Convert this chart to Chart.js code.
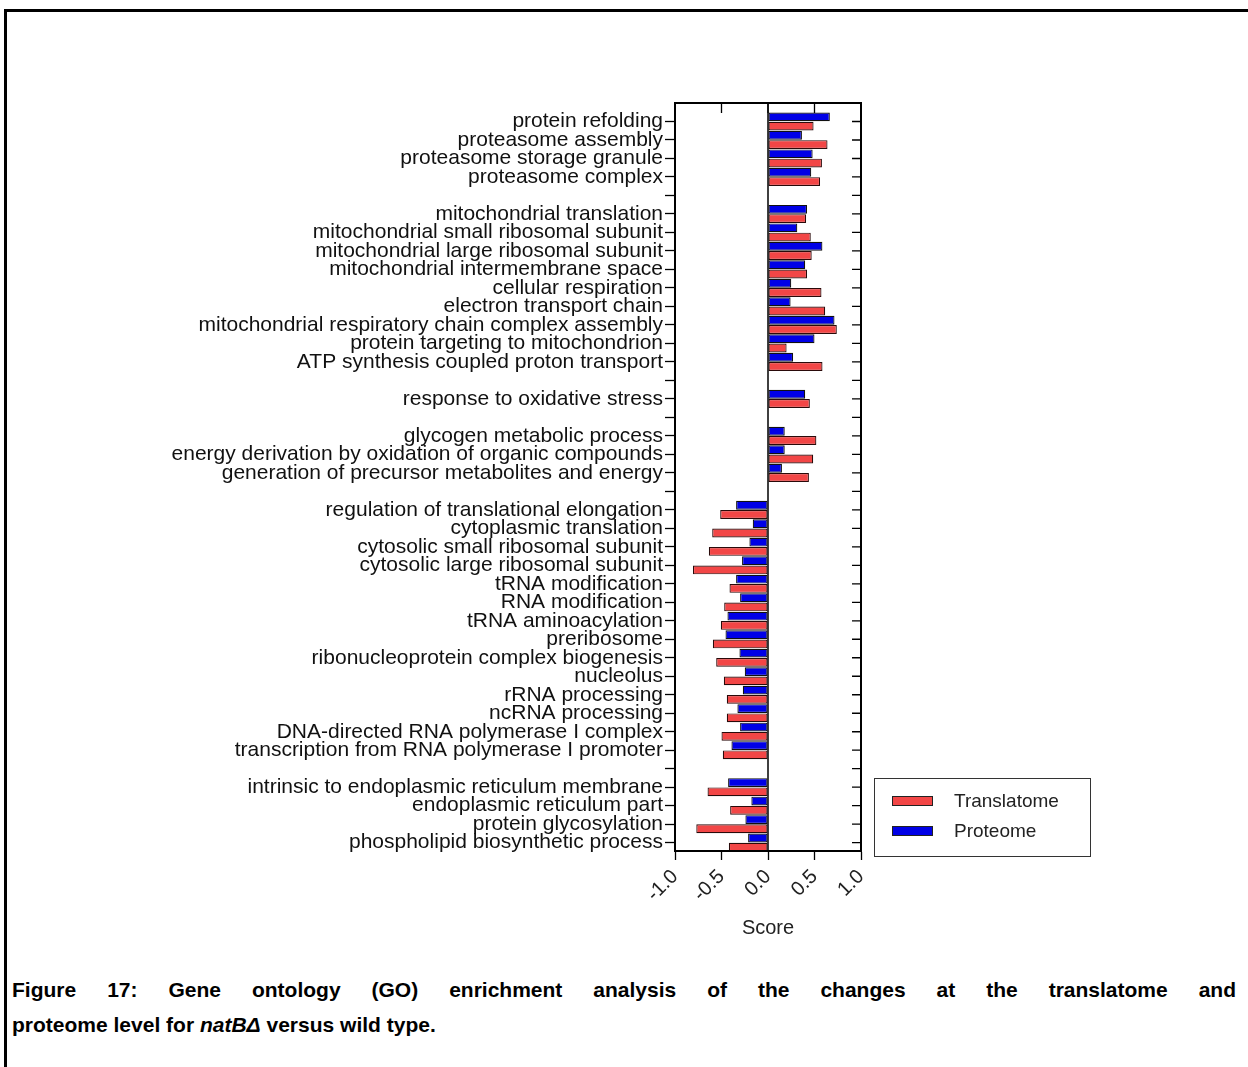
<!DOCTYPE html>
<html>
<head>
<meta charset="utf-8">
<title>GO enrichment natB</title>
<script src="https://cdn.jsdelivr.net/npm/chart.js@4.4.1/dist/chart.umd.min.js"></script>
<style>
    html, body { margin: 0; padding: 0; background: #fff; }
    body { width: 1248px; height: 1067px; position: relative; overflow: hidden; font-family: "Liberation Sans", Arial, sans-serif; }
    .marco-top { position: absolute; left: 4px; top: 9px; width: 1244px; height: 3px; background: #000; }
    .marco-left { position: absolute; left: 4px; top: 9px; width: 3px; height: 1058px; background: #000; }
    #graficoGO { position: absolute; left: 0; top: 0; }
    .leyenda { position: absolute; left: 874px; top: 778px; width: 215px; height: 77px; border: 1.5px solid #333; }
    .leyenda .item { position: absolute; left: 17px; height: 22px; font-size: 19px; color: #222; line-height: 22px; }
    .leyenda .muestra { display: inline-block; width: 39px; height: 8px; border: 1px solid #222; vertical-align: middle; margin-right: 21px; position: relative; top: -1px; }
    .pie { position: absolute; left: 12px; top: 978px; width: 1224px; font-weight: bold; font-size: 21px; color: #000; }
    .pie .linea1 { text-align: justify; text-align-last: justify; height: 35px; }
</style>
</head>
<body>
<div class="marco-top"></div>
<div class="marco-left"></div>
<canvas id="graficoGO" width="1248" height="950"></canvas>

<div class="leyenda">
    <div class="item" style="top: 11px;"><span class="muestra" style="background:#F24646"></span>Translatome</div>
    <div class="item" style="top: 41px;"><span class="muestra" style="background:#0000E6"></span>Proteome</div>
</div>

<div class="pie">
    <div class="linea1">Figure 17: Gene ontology (GO) enrichment analysis of the changes at the translatome and</div>
    <div>proteome level for <i>natBΔ</i> versus wild type.</div>
</div>

<script>
// terms from top to bottom, '' = empty row between groups
const terminos = [
    'protein refolding',
    'proteasome assembly',
    'proteasome storage granule',
    'proteasome complex',
    '',
    'mitochondrial translation',
    'mitochondrial small ribosomal subunit',
    'mitochondrial large ribosomal subunit',
    'mitochondrial intermembrane space',
    'cellular respiration',
    'electron transport chain',
    'mitochondrial respiratory chain complex assembly',
    'protein targeting to mitochondrion',
    'ATP synthesis coupled proton transport',
    '',
    'response to oxidative stress',
    '',
    'glycogen metabolic process',
    'energy derivation by oxidation of organic compounds',
    'generation of precursor metabolites and energy',
    '',
    'regulation of translational elongation',
    'cytoplasmic translation',
    'cytosolic small ribosomal subunit',
    'cytosolic large ribosomal subunit',
    'tRNA modification',
    'RNA modification',
    'tRNA aminoacylation',
    'preribosome',
    'ribonucleoprotein complex biogenesis',
    'nucleolus',
    'rRNA processing',
    'ncRNA processing',
    'DNA-directed RNA polymerase I complex',
    'transcription from RNA polymerase I promoter',
    '',
    'intrinsic to endoplasmic reticulum membrane',
    'endoplasmic reticulum part',
    'protein glycosylation',
    'phospholipid biosynthetic process'
];

const proteome = [
    0.665, 0.365, 0.48, 0.465, null,
    0.42, 0.315, 0.585, 0.40, 0.25, 0.243, 0.715, 0.50, 0.27, null,
    0.40, null,
    0.18, 0.18, 0.15, null,
    -0.343, -0.164, -0.20, -0.279, -0.343, -0.30, -0.436, -0.457, -0.307,
    -0.25, -0.271, -0.329, -0.30, -0.393, null,
    -0.429, -0.179, -0.243, -0.214
];

const translatome = [
    0.49, 0.64, 0.58, 0.56, null,
    0.41, 0.46, 0.47, 0.42, 0.575, 0.615, 0.74, 0.20, 0.586, null,
    0.45, null,
    0.52, 0.486, 0.44, null,
    -0.514, -0.60, -0.636, -0.807, -0.414, -0.471, -0.507, -0.593, -0.557,
    -0.475, -0.443, -0.443, -0.50, -0.486, null,
    -0.65, -0.407, -0.771, -0.421
];

const ticksScore = [-1.0, -0.5, 0.0, 0.5, 1.0];

document.addEventListener("DOMContentLoaded", () => {

    // row index as y, score as x; empty rows get no bar
    function puntos(valores) {
        const lista = [];
        valores.forEach((v, i) => {
            if (v !== null) lista.push({ x: v, y: i });
        });
        return lista;
    }

    // closed frame with inward ticks on top and right
    const marcoPlugin = {
        id: 'marco',
        afterDraw(chart) {
            const { ctx, chartArea: a, scales } = chart;
            ctx.save();
            ctx.strokeStyle = '#000';
            ctx.lineWidth = 2;
            ctx.strokeRect(a.left, a.top, a.right - a.left, a.bottom - a.top);

            ctx.lineWidth = 1.3;
            ctx.beginPath();
            terminos.forEach((_, i) => {
                const py = scales.y.getPixelForValue(i);
                ctx.moveTo(a.right - 9, py);
                ctx.lineTo(a.right, py);
            });
            ticksScore.forEach(v => {
                const px = scales.x.getPixelForValue(v);
                ctx.moveTo(px, a.top);
                ctx.lineTo(px, a.top + 10);
            });
            ctx.stroke();

            // zero line
            const x0 = scales.x.getPixelForValue(0);
            ctx.lineWidth = 1.5;
            ctx.beginPath();
            ctx.moveTo(x0, a.top);
            ctx.lineTo(x0, a.bottom);
            ctx.stroke();
            ctx.restore();
        }
    };

    const grafico = document.querySelector("#graficoGO");

    new Chart(grafico, {
        type: 'bar',
        data: {
            datasets: [
                {
                    label: 'Proteome',
                    data: puntos(proteome),
                    backgroundColor: '#0000E6',
                    borderColor: '#111',
                    borderWidth: 1.2,
                    borderSkipped: false
                },
                {
                    label: 'Translatome',
                    data: puntos(translatome),
                    backgroundColor: '#F24646',
                    borderColor: '#2a0a0a',
                    borderWidth: 1.2,
                    borderSkipped: false
                }
            ]
        },
        options: {
            indexAxis: 'y',
            responsive: false,
            animation: false,
            devicePixelRatio: 1,
            categoryPercentage: 1.0,
            barPercentage: 0.96,
            layout: { padding: { top: 103, right: 387, left: 0, bottom: 0 } },
            plugins: {
                legend: { display: false },
                tooltip: { enabled: false }
            },
            scales: {
                x: {
                    type: 'linear',
                    min: -1,
                    max: 1,
                    afterBuildTicks: (scale) => {
                        scale.ticks = ticksScore.map(v => ({ value: v }));
                    },
                    afterFit: (scale) => { scale.height = 99; },
                    ticks: {
                        minRotation: 45,
                        maxRotation: 45,
                        padding: 5,
                        color: '#222',
                        font: { family: 'Liberation Sans', size: 20 },
                        callback: (v) => Number(v).toFixed(1)
                    },
                    grid: {
                        drawOnChartArea: false,
                        tickLength: 9,
                        tickColor: '#000',
                        tickWidth: 1.3
                    },
                    border: { color: '#000', width: 2 },
                    title: {
                        display: true,
                        text: 'Score',
                        color: '#222',
                        font: { family: 'Liberation Sans', size: 20 },
                        padding: { top: 0, bottom: 10 }
                    }
                },
                y: {
                    type: 'linear',
                    reverse: true,
                    offset: false,
                    min: -1,
                    max: 39.45,
                    afterBuildTicks: (scale) => {
                        scale.ticks = terminos.map((_, i) => ({ value: i }));
                    },
                    afterFit: (scale) => { scale.width = 675; },
                    ticks: {
                        autoSkip: false,
                        padding: 2,
                        color: '#111',
                        font: { family: 'Liberation Sans', size: 21 },
                        callback: (v) => terminos[v] ?? ''
                    },
                    grid: {
                        offset: false,
                        drawOnChartArea: false,
                        tickLength: 10,
                        tickColor: '#000',
                        tickWidth: 1.3
                    },
                    border: { color: '#000', width: 2 }
                }
            }
        },
        plugins: [marcoPlugin]
    });
});
</script>
</body>
</html>
